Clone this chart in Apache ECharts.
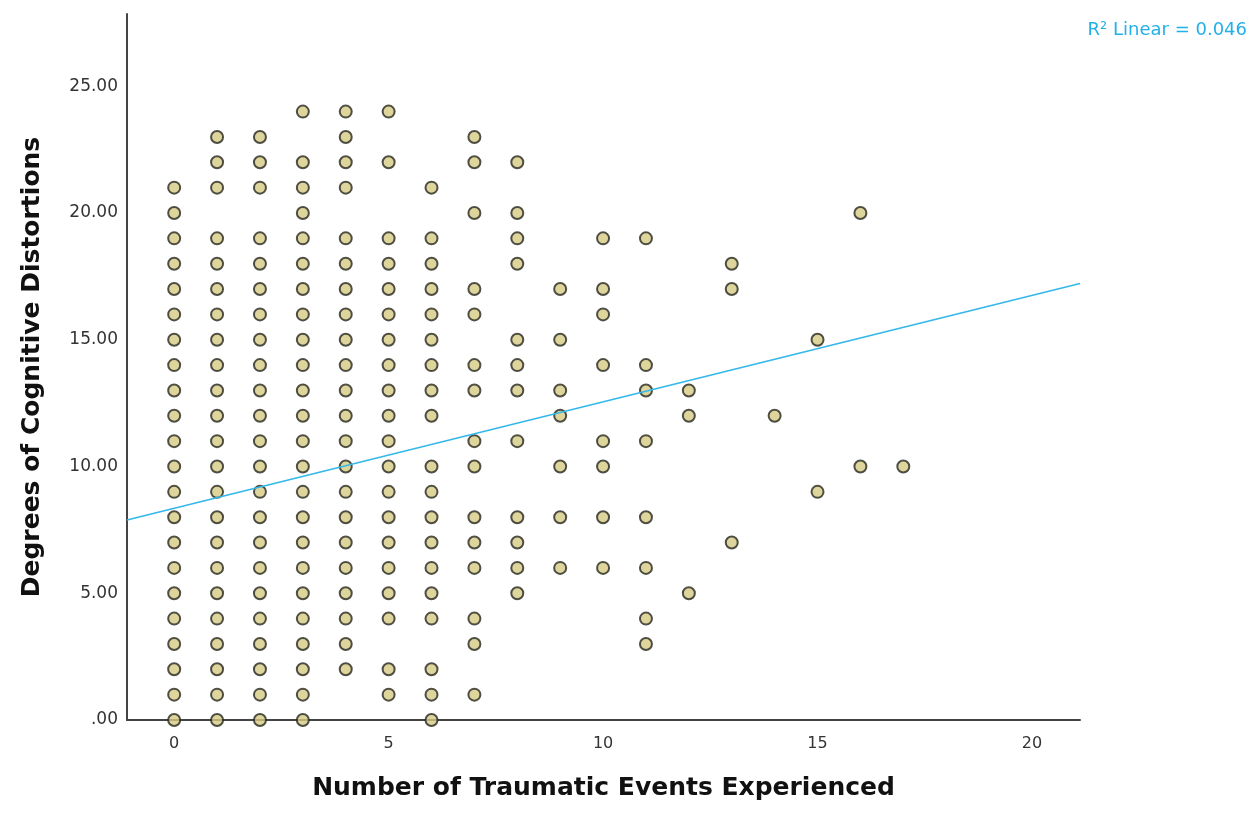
<!DOCTYPE html>
<html>
<head>
<meta charset="utf-8">
<script src="https://cdn.jsdelivr.net/npm/echarts@6/dist/echarts.min.js"></script>
<style>
  html, body { margin: 0; padding: 0; background: #ffffff; }
  #chart { width: 1259px; height: 815px; }
</style>
</head>
<body>
<div id="chart"></div>
<script>
// Number of traumatic events (x) and the distinct cognitive-distortion scores observed for each count
const eventCounts = [0, 1, 2, 3, 4, 5, 6, 7, 8, 9, 10, 11, 12, 13, 14, 15, 16, 17];
const distortionScores = [
  [0, 1, 2, 3, 4, 5, 6, 7, 8, 9, 10, 11, 12, 13, 14, 15, 16, 17, 18, 19, 20, 21],
  [0, 1, 2, 3, 4, 5, 6, 7, 8, 9, 10, 11, 12, 13, 14, 15, 16, 17, 18, 19, 21, 22, 23],
  [0, 1, 2, 3, 4, 5, 6, 7, 8, 9, 10, 11, 12, 13, 14, 15, 16, 17, 18, 19, 21, 22, 23],
  [0, 1, 2, 3, 4, 5, 6, 7, 8, 9, 10, 11, 12, 13, 14, 15, 16, 17, 18, 19, 20, 21, 22, 24],
  [2, 3, 4, 5, 6, 7, 8, 9, 10, 11, 12, 13, 14, 15, 16, 17, 18, 19, 21, 22, 23, 24],
  [1, 2, 4, 5, 6, 7, 8, 9, 10, 11, 12, 13, 14, 15, 16, 17, 18, 19, 22, 24],
  [0, 1, 2, 4, 5, 6, 7, 8, 9, 10, 12, 13, 14, 15, 16, 17, 18, 19, 21],
  [1, 3, 4, 6, 7, 8, 10, 11, 13, 14, 16, 17, 20, 22, 23],
  [5, 6, 7, 8, 11, 13, 14, 15, 18, 19, 20, 22],
  [6, 8, 10, 12, 13, 15, 17],
  [6, 8, 10, 11, 14, 16, 17, 19],
  [3, 4, 6, 8, 11, 13, 14, 19],
  [5, 12, 13],
  [7, 17, 18],
  [12],
  [9, 15],
  [10, 20],
  [10]
];

// Linear fit line
const fitIntercept = 8.35;
const fitSlope = 0.42;
const rSquared = 0.046;

// Axis ranges and tick labels
const xRange = [-1.1, 21.12];
const yRange = [0, 27.85];
const xTicks = [0, 5, 10, 15, 20];
const yTicks = [0, 5, 10, 15, 20, 25];

const points = [];
eventCounts.forEach((x, i) => {
  distortionScores[i].forEach(y => points.push([x, y]));
});
const fitLine = xRange.map(x => [x, fitIntercept + fitSlope * x]);

const FONT = 'DejaVu Sans';
const chart = echarts.init(document.getElementById('chart'), null, { renderer: 'canvas' });

chart.setOption({
  backgroundColor: '#ffffff',
  animation: false,
  grid: { left: 127, right: 179, top: 14, bottom: 95, containLabel: false },
  xAxis: {
    type: 'value',
    min: xRange[0],
    max: xRange[1],
    name: 'Number of Traumatic Events Experienced',
    nameLocation: 'middle',
    nameGap: 56,
    nameTextStyle: { fontFamily: FONT, fontWeight: 'bold', fontSize: 25, color: '#111' },
    axisLine: { show: true, onZero: false, lineStyle: { color: '#444', width: 2 } },
    axisTick: { show: false },
    splitLine: { show: false },
    axisLabel: {
      customValues: xTicks,
      margin: 16,
      fontFamily: FONT,
      fontSize: 16,
      color: '#333',
      formatter: v => String(v)
    }
  },
  yAxis: {
    type: 'value',
    min: yRange[0],
    max: yRange[1],
    name: 'Degrees of Cognitive Distortions',
    nameLocation: 'middle',
    nameGap: 82,
    nameTextStyle: { fontFamily: FONT, fontWeight: 'bold', fontSize: 25, color: '#111' },
    axisLine: { show: true, onZero: false, lineStyle: { color: '#444', width: 2 } },
    axisTick: { show: false },
    splitLine: { show: false },
    axisLabel: {
      customValues: yTicks,
      margin: 9,
      fontFamily: FONT,
      fontSize: 17,
      color: '#333',
      formatter: v => (v === 0 ? '.00' : v.toFixed(2))
    }
  },
  series: [
    {
      type: 'scatter',
      data: points,
      symbol: 'circle',
      symbolSize: 12,
      itemStyle: { color: '#d6cb84', borderColor: '#26261e', borderWidth: 2 },
      z: 2
    },
    {
      type: 'line',
      data: fitLine,
      showSymbol: false,
      symbol: 'none',
      lineStyle: { color: '#33b8ea', width: 1.6 },
      z: 3
    }
  ],
  graphic: [
    {
      type: 'text',
      right: 12,
      top: 21,
      style: {
        text: 'R\u00b2 Linear = ' + rSquared.toFixed(3),
        fontFamily: FONT,
        fontSize: 18,
        fill: '#22b0e8'
      }
    }
  ]
});
</script>
</body>
</html>
